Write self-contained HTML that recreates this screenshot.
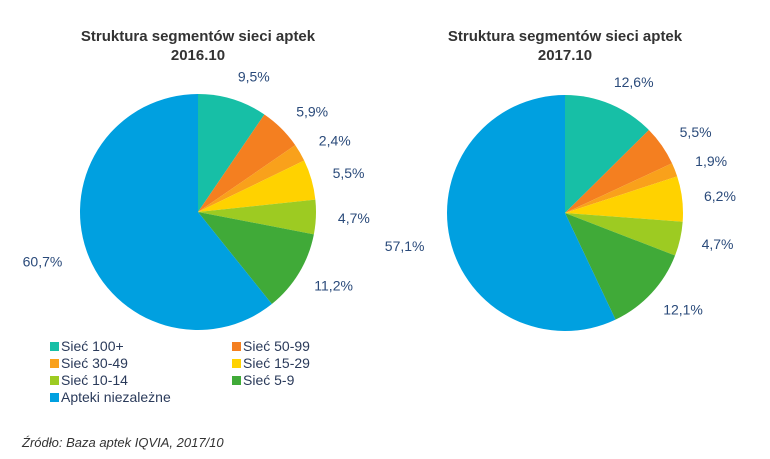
<!DOCTYPE html>
<html><head><meta charset="utf-8">
<style>
body{margin:0;background:#fff;}
svg{display:block;font-family:"Liberation Sans",sans-serif;}
</style></head>
<body>
<svg id="c" width="770" height="459">
<text x="198" y="41" text-anchor="middle" font-size="15" font-weight="bold" fill="#333">Struktura segmentów sieci aptek</text>
<text x="198" y="60" text-anchor="middle" font-size="15" font-weight="bold" fill="#333">2016.10</text>
<text x="565" y="41" text-anchor="middle" font-size="15" font-weight="bold" fill="#333">Struktura segmentów sieci aptek</text>
<text x="565" y="60" text-anchor="middle" font-size="15" font-weight="bold" fill="#333">2017.10</text>
<g id="pies"></g>
<g id="legend"></g>
<text x="22" y="447" font-size="13" font-style="italic" fill="#333">Źródło: Baza aptek IQVIA, 2017/10</text>
</svg>
<script>
const categories=["Sieć 100+","Sieć 50-99","Sieć 30-49","Sieć 15-29","Sieć 10-14","Sieć 5-9","Apteki niezależne"];
const values2016=[9.5,5.9,2.4,5.5,4.7,11.2,60.7];
const values2017=[12.6,5.5,1.9,6.2,4.7,12.1,57.1];
const colors=["#17BFA6","#F47F20","#F9A11B","#FFD200","#9DCB22","#40AA38","#00A0E0"];
const NS="http://www.w3.org/2000/svg";
const pies=document.getElementById('pies');
function fmt(v){return v.toFixed(1).replace('.',',')+'%';}
function drawPie(vals,cx,cy,r,tag){
  const tot=vals.reduce((a,b)=>a+b,0);
  let acc=0;
  vals.forEach((v,i)=>{
    const a0=acc/tot*2*Math.PI; acc+=v; const a1=acc/tot*2*Math.PI;
    const x0=cx+r*Math.sin(a0),y0=cy-r*Math.cos(a0),x1=cx+r*Math.sin(a1),y1=cy-r*Math.cos(a1);
    const p=document.createElementNS(NS,'path');
    p.setAttribute('d',`M${cx},${cy}L${x0},${y0}A${r},${r} 0 ${a1-a0>Math.PI?1:0} 1 ${x1},${y1}Z`);
    p.setAttribute('fill',colors[i]);
    
    
    pies.appendChild(p);
    const am=(a0+a1)/2, lr=r+(i==6?32:24);
    const t=document.createElementNS(NS,'text');
    t.setAttribute('x',cx+lr*Math.sin(am)+(Math.sin(am)>0?14:-14));
    t.setAttribute('y',cy-lr*Math.cos(am)+5);
    t.setAttribute('text-anchor','middle');
    t.setAttribute('font-size','14');
    t.setAttribute('fill','#2A4A7A');
    t.textContent=fmt(v);
    
    
    pies.appendChild(t);
  });
}
drawPie(values2016,198,212,118,'2016');
drawPie(values2017,565,213,118,'2017');
const lg=document.getElementById('legend');
categories.forEach((c,i)=>{
  const col=i==6?0:i%2, row=Math.floor(i/2);
  const x=col?232:50, y=346+row*17;
  const g=document.createElementNS(NS,'g');
  
  
  const s=document.createElementNS(NS,'rect');
  s.setAttribute('x',x);s.setAttribute('y',y-4);s.setAttribute('width',9);s.setAttribute('height',9);
  s.setAttribute('fill',colors[i]);
  const t=document.createElementNS(NS,'text');
  t.setAttribute('x',x+11);t.setAttribute('y',y+5);t.setAttribute('font-size','14');t.setAttribute('fill','#2A3A5A');
  t.textContent=c;
  g.appendChild(s);g.appendChild(t);lg.appendChild(g);
});
</script>
</body></html>
